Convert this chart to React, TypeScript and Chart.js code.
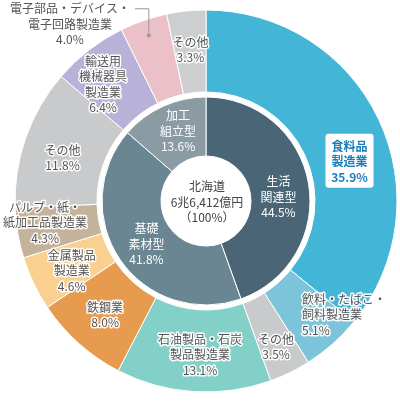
import React, { useEffect, useRef } from "react";
import { Chart, registerables } from "chart.js";

Chart.register(...registerables);

// ---- data ----
const outerCategories = [
  "食料品製造業",
  "飲料・たばこ・飼料製造業",
  "その他",
  "石油製品・石炭製品製造業",
  "鉄鋼業",
  "金属製品製造業",
  "パルプ・紙・紙加工品製造業",
  "その他",
  "輸送用機械器具製造業",
  "電子部品・デバイス・電子回路製造業",
  "その他",
];
const outerValues = [35.9, 5.1, 3.5, 13.1, 8.0, 4.6, 4.3, 11.8, 6.4, 4.0, 3.3];
const outerLabelLines = [
  ["食料品", "製造業"],
  ["飲料・たばこ・", "飼料製造業"],
  ["その他"],
  ["石油製品・石炭", "製品製造業"],
  ["鉄鋼業"],
  ["金属製品", "製造業"],
  ["パルプ・紙・", "紙加工品製造業"],
  ["その他"],
  ["輸送用", "機械器具", "製造業"],
  ["電子部品・デバイス・", "電子回路製造業"],
  ["その他"],
];
const innerCategories = ["生活関連型", "基礎素材型", "加工組立型"];
const innerValues = [44.5, 41.8, 13.6];
const innerLabelLines = [
  ["生活", "関連型"],
  ["基礎", "素材型"],
  ["加工", "組立型"],
];
const centerLines = ["北海道", "6兆6,412億円", "（100%）"];

// ---- styles ----
const outerColors = [
  "#43b5d7",
  "#7cc4da",
  "#c9cacc",
  "#83d0c8",
  "#e69b4e",
  "#f9d08f",
  "#c4b39a",
  "#c9cacc",
  "#b8b2d8",
  "#ebc0c9",
  "#cdcecf",
];
const innerColors = ["#4a6676", "#6b8693", "#8a9ba4"];
const outerLabelOffsets = [
  { dx: 8, dy: 25, align: "center" },
  { dx: -3.5, dy: 1.5, align: "left" },
  { dx: 4, dy: 11, align: "center" },
  { dx: 4, dy: 4, align: "center" },
  { dx: -1, dy: 2, align: "center" },
  { dx: 1, dy: 5, align: "center" },
  { dx: -13, dy: -3, align: "center" },
  { dx: -2, dy: 7, align: "center" },
  { dx: -11, dy: 2, align: "center" },
  { dx: -87, dy: -35, align: "center" },
  { dx: 0, dy: -2, align: "center" },
];
const innerLabelOffsets = [
  { dx: -1, dy: 9 },
  { dx: 2, dy: 1 },
  { dx: 3, dy: -2 },
];
const FONT_FAMILY = '"Noto Sans CJK JP", "Noto Sans", sans-serif';
const LINE_H = 15.5;

const fmt = (v: number) => v.toFixed(1) + "%";

function arcMid(arc: any) {
  const p = arc.getProps(
    ["x", "y", "startAngle", "endAngle", "innerRadius", "outerRadius"],
    true
  );
  const a = (p.startAngle + p.endAngle) / 2;
  const r = (p.innerRadius + p.outerRadius) / 2;
  return {
    x: p.x + Math.cos(a) * r,
    y: p.y + Math.sin(a) * r,
    a,
    cx: p.x,
    cy: p.y,
    outerRadius: p.outerRadius,
  };
}

function drawLines(
  ctx: CanvasRenderingContext2D,
  lines: string[],
  x: number,
  y: number,
  fill: string,
  halo: boolean
) {
  const top = y - ((lines.length - 1) * LINE_H) / 2;
  lines.forEach((t, k) => {
    const yy = top + k * LINE_H;
    if (halo) {
      ctx.strokeStyle = "rgba(255,255,255,0.95)";
      ctx.lineWidth = 3;
      ctx.lineJoin = "round";
      ctx.strokeText(t, x, yy);
    }
    ctx.fillStyle = fill;
    ctx.fillText(t, x, yy);
  });
}

const labelPlugin = {
  id: "ringLabels",
  afterDatasetsDraw(chart: any) {
    const ctx: CanvasRenderingContext2D = chart.ctx;
    ctx.save();
    ctx.textBaseline = "middle";

    // outer ring labels
    const outerMeta = chart.getDatasetMeta(0);
    outerMeta.data.forEach((arc: any, i: number) => {
      const m = arcMid(arc);
      const off = outerLabelOffsets[i];
      const x = m.x + off.dx;
      const y = m.y + off.dy;
      const lines = [...outerLabelLines[i], fmt(outerValues[i])];
      if (i === 0) {
        // highlighted box
        ctx.font = "bold 12px " + FONT_FAMILY;
        const w = 48;
        const h = 54;
        ctx.fillStyle = "#ffffff";
        ctx.beginPath();
        (ctx as any).roundRect(x - w / 2, y - h / 2 - 1, w, h, 3);
        ctx.fill();
        ctx.textAlign = "center";
        drawLines(ctx, lines, x, y, "#1b7dbd", false);
        return;
      }
      ctx.font = "12px " + FONT_FAMILY;
      ctx.textAlign = off.align as CanvasTextAlign;
      if (i === 9) {
        // leader line
        const sr = m.outerRadius - 16;
        const sx = m.cx + Math.cos(m.a) * sr;
        const sy = m.cy + Math.sin(m.a) * sr;
        const top = y - ((lines.length - 1) * LINE_H) / 2;
        const w = ctx.measureText(lines[0]).width;
        const ex = x + w / 2 + 5;
        ctx.strokeStyle = "#9a9a9a";
        ctx.lineWidth = 1;
        ctx.beginPath();
        ctx.moveTo(sx, sy);
        ctx.lineTo(sx, top);
        ctx.lineTo(ex, top);
        ctx.stroke();
        ctx.fillStyle = "#9a9a9a";
        ctx.beginPath();
        ctx.arc(sx, sy, 2, 0, Math.PI * 2);
        ctx.fill();
      }
      drawLines(ctx, lines, x, y, "#555555", true);
    });

    // inner ring labels
    const innerMeta = chart.getDatasetMeta(2);
    ctx.font = "12px " + FONT_FAMILY;
    ctx.textAlign = "center";
    innerMeta.data.forEach((arc: any, i: number) => {
      const m = arcMid(arc);
      const off = innerLabelOffsets[i];
      const lines = [...innerLabelLines[i], fmt(innerValues[i])];
      drawLines(ctx, lines, m.x + off.dx, m.y + off.dy, "#ffffff", false);
    });

    // center
    const any = innerMeta.data[0];
    const c = any.getProps(["x", "y"], true);
    drawLines(ctx, centerLines, c.x + 1, c.y + 1, "#444444", false);

    ctx.restore();
  },
};

export default function App() {
  const ref = useRef<HTMLCanvasElement>(null);
  useEffect(() => {
    const chart = new Chart(ref.current as HTMLCanvasElement, {
      type: "doughnut",
      data: {
        labels: outerCategories,
        datasets: [
          {
            label: "業種",
            data: outerValues,
            backgroundColor: outerColors,
            borderColor: "#ffffff",
            borderWidth: 1,
            hoverBorderWidth: 1,
            hoverOffset: 0,
            weight: 82,
          } as any,
          {
            label: "spacer",
            data: [1],
            backgroundColor: "rgba(0,0,0,0)",
            borderWidth: 0,
            hoverBorderWidth: 0,
            hoverOffset: 0,
            weight: 5,
          } as any,
          {
            label: "類型",
            data: innerValues,
            backgroundColor: innerColors,
            borderColor: "#ffffff",
            borderWidth: 1,
            hoverBorderWidth: 1,
            hoverOffset: 0,
            weight: 59,
          } as any,
        ],
      },
      options: {
        responsive: false,
        animation: false,
        cutout: 45,
        layout: { padding: { left: 14.5, top: 9.5, right: 2.5, bottom: 27.5 } },
        plugins: {
          legend: { display: false },
          tooltip: { enabled: false },
        },
        events: [],
      },
      plugins: [labelPlugin],
    });
    return () => chart.destroy();
  }, []);
  return (
    <div style={{ position: "absolute", left: 0, top: 0, width: 400, height: 420 }}>
      <canvas ref={ref} width={400} height={420} style={{ width: 400, height: 420 }} />
    </div>
  );
}
